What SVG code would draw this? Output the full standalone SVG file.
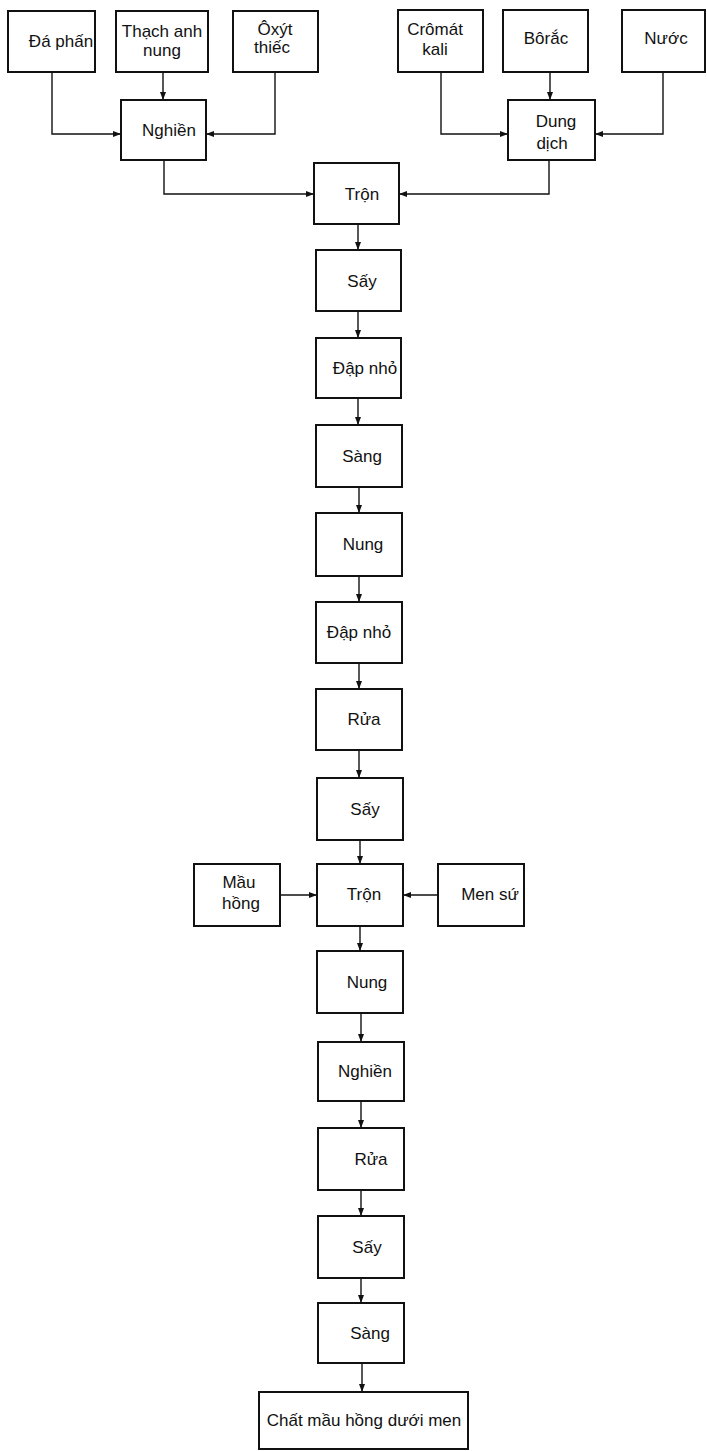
<svg xmlns="http://www.w3.org/2000/svg" width="707" height="1451" viewBox="0 0 707 1451">
<style>
.b{fill:#fff;stroke:#111;stroke-width:2}
.t{font-family:"Liberation Sans",Arial,sans-serif;font-size:17px;fill:#111;text-anchor:middle}
.c{fill:none;stroke:#111;stroke-width:1.4}
</style>
<defs>
<marker id="a" viewBox="0 0 8 6" refX="8" refY="3" markerWidth="8" markerHeight="6" markerUnits="userSpaceOnUse" orient="auto">
<path d="M0,0 L8,3 L0,6 Z" fill="#111"/>
</marker>
</defs>
<rect width="707" height="1451" fill="#fff"/>
<g id="connectors">
<path class="c" d="M52,72 V134 H121" marker-end="url(#a)"/>
<path class="c" d="M163,72 V100" marker-end="url(#a)"/>
<path class="c" d="M275,72 V134 H206" marker-end="url(#a)"/>
<path class="c" d="M164,160 V194 H314" marker-end="url(#a)"/>
<path class="c" d="M441,72 V134 H508" marker-end="url(#a)"/>
<path class="c" d="M550,72 V100" marker-end="url(#a)"/>
<path class="c" d="M663,72 V134 H595" marker-end="url(#a)"/>
<path class="c" d="M549,160 V194 H399" marker-end="url(#a)"/>
<path class="c" d="M358,224 V250" marker-end="url(#a)"/>
<path class="c" d="M358,311 V338" marker-end="url(#a)"/>
<path class="c" d="M358,398 V425" marker-end="url(#a)"/>
<path class="c" d="M359,487 V513" marker-end="url(#a)"/>
<path class="c" d="M359,576 V602" marker-end="url(#a)"/>
<path class="c" d="M359,663 V689" marker-end="url(#a)"/>
<path class="c" d="M359,750 V778" marker-end="url(#a)"/>
<path class="c" d="M360,840 V864" marker-end="url(#a)"/>
<path class="c" d="M280,895 H317" marker-end="url(#a)"/>
<path class="c" d="M438,895 H403" marker-end="url(#a)"/>
<path class="c" d="M360,926 V951" marker-end="url(#a)"/>
<path class="c" d="M361,1013 V1042" marker-end="url(#a)"/>
<path class="c" d="M361,1101 V1128" marker-end="url(#a)"/>
<path class="c" d="M361,1190 V1216" marker-end="url(#a)"/>
<path class="c" d="M361,1278 V1303" marker-end="url(#a)"/>
<path class="c" d="M362,1363 V1392" marker-end="url(#a)"/>
</g>
<g id="da-phan"><rect class="b" x="8" y="11" width="87" height="61"/><text class="t" x="61" y="47">Đá phấn</text></g>
<g id="thach-anh"><rect class="b" x="116" y="11" width="92" height="61"/><text class="t" x="162" y="37">Thạch anh</text><text class="t" x="162" y="56">nung</text></g>
<g id="oxyt-thiec"><rect class="b" x="233" y="11" width="85" height="61"/><text class="t" x="275" y="35">Ôxýt</text><text class="t" x="272" y="53">thiếc</text></g>
<g id="nghien1"><rect class="b" x="121" y="100" width="85" height="60"/><text class="t" x="169" y="136">Nghiền</text></g>
<g id="cromat-kali"><rect class="b" x="398" y="10" width="85" height="62"/><text class="t" x="435" y="35">Crômát</text><text class="t" x="435" y="55">kali</text></g>
<g id="borac"><rect class="b" x="503" y="10" width="85" height="62"/><text class="t" x="546" y="44">Bôrắc</text></g>
<g id="nuoc"><rect class="b" x="622" y="10" width="83" height="62"/><text class="t" x="666" y="44">Nước</text></g>
<g id="dung-dich"><rect class="b" x="508" y="100" width="87" height="60"/><text class="t" x="556" y="127">Dung</text><text class="t" x="552" y="149">dịch</text></g>
<g id="tron1"><rect class="b" x="314" y="163" width="85" height="61"/><text class="t" x="362" y="200">Trộn</text></g>
<g id="say1"><rect class="b" x="316" y="250" width="85" height="61"/><text class="t" x="362" y="287">Sấy</text></g>
<g id="dap-nho1"><rect class="b" x="316" y="338" width="85" height="60"/><text class="t" x="365" y="374">Đập nhỏ</text></g>
<g id="sang1"><rect class="b" x="316" y="425" width="86" height="62"/><text class="t" x="362" y="462">Sàng</text></g>
<g id="nung1"><rect class="b" x="316" y="513" width="86" height="63"/><text class="t" x="363" y="550">Nung</text></g>
<g id="dap-nho2"><rect class="b" x="316" y="602" width="86" height="61"/><text class="t" x="359" y="638">Đập nhỏ</text></g>
<g id="rua1"><rect class="b" x="316" y="689" width="86" height="61"/><text class="t" x="364" y="725">Rửa</text></g>
<g id="say2"><rect class="b" x="317" y="778" width="86" height="62"/><text class="t" x="365" y="815">Sấy</text></g>
<g id="mau-hong"><rect class="b" x="194" y="864" width="86" height="62"/><text class="t" x="239" y="888">Mầu</text><text class="t" x="241" y="909">hồng</text></g>
<g id="tron2"><rect class="b" x="317" y="864" width="86" height="62"/><text class="t" x="364" y="900">Trộn</text></g>
<g id="men-su"><rect class="b" x="438" y="864" width="86" height="62"/><text class="t" x="490" y="900">Men sứ</text></g>
<g id="nung2"><rect class="b" x="317" y="951" width="86" height="62"/><text class="t" x="367" y="988">Nung</text></g>
<g id="nghien2"><rect class="b" x="318" y="1042" width="86" height="59"/><text class="t" x="365" y="1077">Nghiền</text></g>
<g id="rua2"><rect class="b" x="318" y="1128" width="86" height="62"/><text class="t" x="371" y="1165">Rửa</text></g>
<g id="say3"><rect class="b" x="318" y="1216" width="86" height="62"/><text class="t" x="367" y="1253">Sấy</text></g>
<g id="sang2"><rect class="b" x="318" y="1303" width="86" height="60"/><text class="t" x="370" y="1339">Sàng</text></g>
<g id="final"><rect class="b" x="259" y="1392" width="209" height="57"/><text class="t" x="364" y="1426">Chất mầu hồng dưới men</text></g>
</svg>
